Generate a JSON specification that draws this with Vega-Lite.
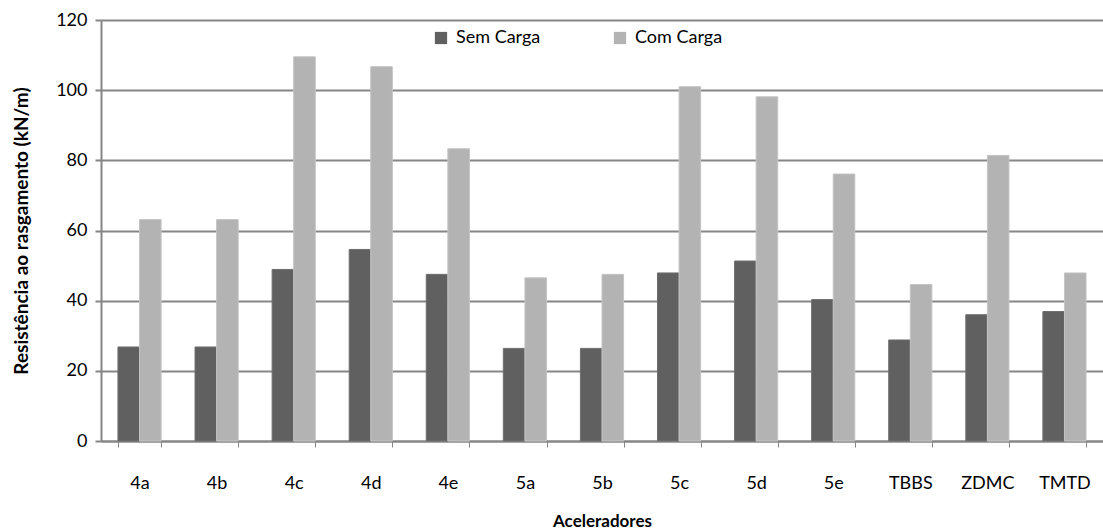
{
  "$schema": "https://vega.github.io/schema/vega-lite/v6.json",
  "autosize": {"type": "none"},
  "padding": {"left": 101, "top": 20, "right": 0, "bottom": 90},
  "width": 1002,
  "height": 421,
  "background": "white",
  "config": {
    "view": {"stroke": null},
    "font": "Lato"
  },
  "data": {
    "values": [
      {"acelerador": "4a", "serie": "Sem Carga", "valor": 26.8},
      {"acelerador": "4a", "serie": "Com Carga", "valor": 63.1},
      {"acelerador": "4b", "serie": "Sem Carga", "valor": 26.8},
      {"acelerador": "4b", "serie": "Com Carga", "valor": 63.1},
      {"acelerador": "4c", "serie": "Sem Carga", "valor": 48.9},
      {"acelerador": "4c", "serie": "Com Carga", "valor": 109.5},
      {"acelerador": "4d", "serie": "Sem Carga", "valor": 54.6},
      {"acelerador": "4d", "serie": "Com Carga", "valor": 106.7},
      {"acelerador": "4e", "serie": "Sem Carga", "valor": 47.5},
      {"acelerador": "4e", "serie": "Com Carga", "valor": 83.3},
      {"acelerador": "5a", "serie": "Sem Carga", "valor": 26.4},
      {"acelerador": "5a", "serie": "Com Carga", "valor": 46.5},
      {"acelerador": "5b", "serie": "Sem Carga", "valor": 26.4},
      {"acelerador": "5b", "serie": "Com Carga", "valor": 47.5},
      {"acelerador": "5c", "serie": "Sem Carga", "valor": 47.9},
      {"acelerador": "5c", "serie": "Com Carga", "valor": 101.0},
      {"acelerador": "5d", "serie": "Sem Carga", "valor": 51.3},
      {"acelerador": "5d", "serie": "Com Carga", "valor": 98.1},
      {"acelerador": "5e", "serie": "Sem Carga", "valor": 40.3},
      {"acelerador": "5e", "serie": "Com Carga", "valor": 76.1},
      {"acelerador": "TBBS", "serie": "Sem Carga", "valor": 28.8},
      {"acelerador": "TBBS", "serie": "Com Carga", "valor": 44.6},
      {"acelerador": "ZDMC", "serie": "Sem Carga", "valor": 36.0},
      {"acelerador": "ZDMC", "serie": "Com Carga", "valor": 81.4},
      {"acelerador": "TMTD", "serie": "Sem Carga", "valor": 36.9},
      {"acelerador": "TMTD", "serie": "Com Carga", "valor": 47.9}
    ]
  },
  "mark": {"type": "bar", "strokeWidth": 1},
  "encoding": {
    "x": {
      "field": "acelerador",
      "type": "nominal",
      "sort": null,
      "scale": {"paddingInner": 0.44, "paddingOuter": 0.22},
      "axis": {
        "title": "Aceleradores",
        "titleFont": "Lato",
        "titleFontSize": 17,
        "titleFontWeight": "bold",
        "titleColor": "black",
        "titlePadding": 21,
        "labelAngle": 0,
        "labelFont": "Lato",
        "labelFontSize": 18,
        "labelColor": "black",
        "labelPadding": 27,
        "tickBand": "extent",
        "tickSize": 6,
        "tickColor": "#868686",
        "tickWidth": 1,
        "domainColor": "#868686",
        "domainWidth": 2,
        "grid": false
      }
    },
    "y": {
      "field": "valor",
      "type": "quantitative",
      "scale": {"domain": [0, 120]},
      "axis": {
        "title": "Resistência  ao rasgamento (kN/m)",
        "titleFont": "Lato",
        "titleFontSize": 19,
        "titleFontWeight": "bold",
        "titleColor": "black",
        "titlePadding": 24,
        "values": [0, 20, 40, 60, 80, 100, 120],
        "labelFont": "Lato",
        "labelFontSize": 18,
        "labelColor": "black",
        "labelPadding": 8,
        "tickSize": 6,
        "tickColor": "#868686",
        "tickWidth": 2,
        "domainColor": "#868686",
        "domainWidth": 2,
        "grid": true,
        "gridColor": "#868686",
        "gridWidth": 2
      }
    },
    "xOffset": {"field": "serie", "type": "nominal", "sort": ["Sem Carga", "Com Carga"]},
    "color": {
      "field": "serie",
      "type": "nominal",
      "scale": {"domain": ["Sem Carga", "Com Carga"], "range": ["#606060", "#b3b3b3"]},
      "legend": {
        "title": null,
        "orient": "none",
        "direction": "horizontal",
        "legendX": 331,
        "legendY": 9,
        "padding": 0,
        "symbolType": "square",
        "symbolSize": 150,
        "symbolStrokeWidth": 0,
        "labelFont": "Lato",
        "labelFontSize": 18,
        "labelColor": "black",
        "labelOffset": 6,
        "columnPadding": 70
      }
    },
    "stroke": {
      "field": "serie",
      "type": "nominal",
      "scale": {"domain": ["Sem Carga", "Com Carga"], "range": ["#6e6e6e", "#c4c4c4"]},
      "legend": null
    }
  }
}
